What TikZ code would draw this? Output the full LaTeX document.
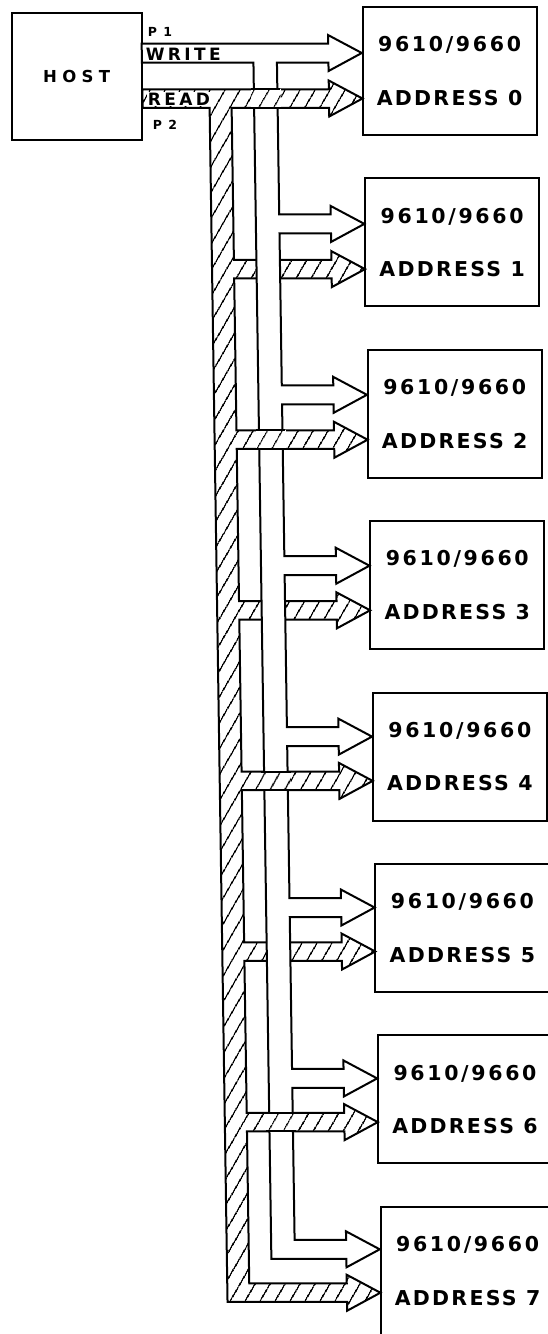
\documentclass[tikz,border=0pt]{standalone}
\usepackage{fontspec}
\newfontfamily\platefont{DejaVu Sans Bold}
\usetikzlibrary{patterns.meta}
% bus geometry, in scan pixels
\newcommand\hatchL{208}
\newcommand\hatchR{230}
\newcommand\wrL{252.5}
\newcommand\wrR{276}
\newcommand\flX{327.5}
\newcommand\tipX{361}
\tikzset{
  bus/.style={draw=black,line width=2pt,line join=miter},
  readbus/.style={bus,preaction={fill=white},
    pattern={Lines[angle=60,distance=13pt,line width=1.5pt]}},
  writebus/.style={bus,fill=white},
  unit/.style={draw,line width=2pt,minimum width=174pt,minimum height=128pt,
    align=center,font=\platefont\fontsize{20.5}{24}\selectfont},
  hostbox/.style={draw,line width=2pt,minimum width=130pt,minimum height=127pt,
    font=\platefont\fontsize{16.5}{20}\selectfont\addfontfeature{LetterSpace=32}},
  port/.style={inner sep=0pt,
    font=\platefont\fontsize{12.5}{15}\selectfont\addfontfeature{LetterSpace=16}},
  busname/.style={inner sep=0.5pt,fill=white,
    font=\platefont\fontsize{17}{20}\selectfont\addfontfeature{LetterSpace=20}}
}
\begin{document}
\begin{tikzpicture}[x={(1pt,0pt)},y={(0.015pt,-1pt)}]
\useasboundingbox (0pt,0pt) rectangle (547pt,-1334pt);
\def\ws{9.5}\def\wh{18}\def\rs{9.25}\def\rh{18}

\node[hostbox] (host) at (75.5,76.5) {HOST};

% read bus, hatched
\draw[readbus] (141,98.5-\rs) -- (\flX,98.5-\rs) -- (\flX,98.5-\rh) -- (\tipX,98.5)
  -- (\flX,98.5+\rh) -- (\flX,98.5+\rs) -- (\hatchR,98.5+\rs)
  \foreach \i [evaluate=\i as \ry using 98.5+170.6*\i] in {1,...,6}{
    -- (\hatchR,\ry-\rs) -- (\flX,\ry-\rs) -- (\flX,\ry-\rh) -- (\tipX,\ry)
    -- (\flX,\ry+\rh) -- (\flX,\ry+\rs) -- (\hatchR,\ry+\rs)}
  -- (\hatchR,1292.7-\rs) -- (\flX,1292.7-\rs) -- (\flX,1292.7-\rh) -- (\tipX,1292.7)
  -- (\flX,1292.7+\rh) -- (\flX,1292.7+\rs) -- (\hatchL,1292.7+\rs)
  -- (\hatchL,98.5+\rs) -- (141,98.5+\rs) -- cycle;

% write bus, open
\draw[writebus] (141,53-\ws) -- (\flX,53-\ws) -- (\flX,53-\wh) -- (\tipX,53)
  -- (\flX,53+\wh) -- (\flX,53+\ws) -- (\wrR,53+\ws)
  \foreach \i [evaluate=\i as \wy using 53+170.9*\i] in {1,...,6}{
    -- (\wrR,\wy-\ws) -- (\flX,\wy-\ws) -- (\flX,\wy-\wh) -- (\tipX,\wy)
    -- (\flX,\wy+\wh) -- (\flX,\wy+\ws) -- (\wrR,\wy+\ws)}
  -- (\wrR,1249.3-\ws) -- (\flX,1249.3-\ws) -- (\flX,1249.3-\wh) -- (\tipX,1249.3)
  -- (\flX,1249.3+\wh) -- (\flX,1249.3+\ws) -- (\wrL,1249.3+\ws)
  -- (\wrL,53+\ws) -- (141,53+\ws) -- cycle;

% read branch passes over the write bus on even rows
\foreach \i [evaluate=\i as \ry using 98.5+170.6*\i] in {0,2,4,6}{
  \path[readbus,draw=none] (\wrL-3,\ry-\rs) rectangle (\wrR+3,\ry+\rs);
  \draw[bus] (\wrL-3,\ry-\rs) -- (\wrR+3,\ry-\rs) (\wrL-3,\ry+\rs) -- (\wrR+3,\ry+\rs);
}

\node[port] (p1) at (159.5,32) {P 1};
\node[port] (p2) at (163,125) {P 2};
\node[busname] (wr) at (182.5,54.5) {WRITE};
\node[busname] (rd) at (177.5,99) {READ};

\foreach \i in {0,...,7}{
  \node[unit] (dev\i) at (448.5,71+171.4*\i)
    {{\addfontfeature{LetterSpace=13}9610/9660}\\[29.5pt]{\addfontfeature{LetterSpace=11}ADDRESS \i}};
}
\end{tikzpicture}
\end{document}
